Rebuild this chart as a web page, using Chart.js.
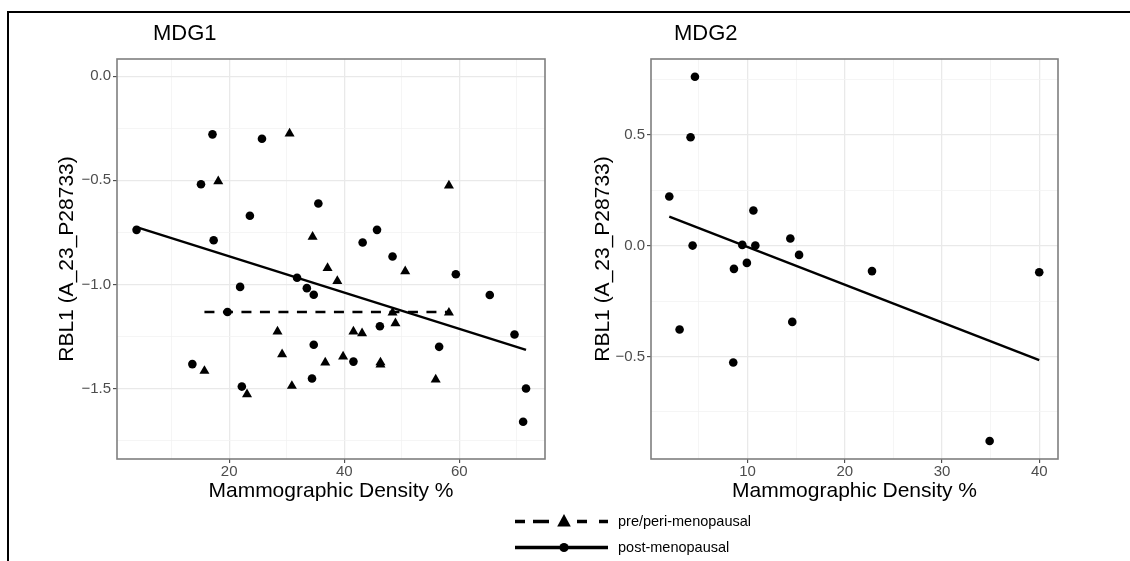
<!DOCTYPE html>
<html><head><meta charset="utf-8">
<script src="https://cdn.jsdelivr.net/npm/chart.js@4"></script>
<style>
html,body{margin:0;padding:0;background:#fff;width:1130px;height:561px;overflow:hidden;font-family:'Liberation Sans',Arial,sans-serif;}
#frame{position:absolute;left:7px;top:11px;width:1140px;height:600px;border-top:2px solid #000;border-left:2px solid #000;}
.wrap{position:absolute;top:0;}
.ptitle{position:absolute;font-size:22px;line-height:1;color:#000;top:22px;}
.leg{position:absolute;left:510px;font-size:14.5px;color:#000;}
.leg .row{position:absolute;left:0;height:20px;width:300px;}
.leg svg{position:absolute;left:0;top:0;}
.leg span{position:absolute;left:108px;top:2px;white-space:nowrap;line-height:16px;}
</style></head>
<body>
<div id="frame"></div>
<div class="wrap" style="left:0;width:580px;height:520px;"><canvas id="c1" width="580" height="520"></canvas></div>
<div class="wrap" style="left:565px;width:565px;height:520px;"><canvas id="c2" width="565" height="520"></canvas></div>
<div class="ptitle" style="left:153px;">MDG1</div>
<div class="ptitle" style="left:674px;">MDG2</div>
<div class="leg" style="top:511px;">
  <div class="row" style="top:0;">
    <svg width="105" height="20"><path d="M5 10.5H15M23 10.5H39M67 10.5H77M89 10.5H98" stroke="#000" stroke-width="3.5" fill="none"/><polygon points="54,3 60.8,15.5 47.2,15.5" fill="#000"/></svg>
    <span>pre/peri-menopausal</span>
  </div>
  <div class="row" style="top:26px;">
    <svg width="105" height="20"><line x1="5" y1="10.5" x2="98" y2="10.5" stroke="#000" stroke-width="3.5"/><circle cx="54" cy="10.5" r="4.6" fill="#000"/></svg>
    <span>post-menopausal</span>
  </div>
</div>
<script>
// ---- MDG1 (left panel) ----
const mdg1PostX = [3.9,17.1,25.7,15.1,23.6,17.3,35.5,45.7,43.2,48.4,59.4,31.8,33.5,34.7,46.2,34.7,56.5,41.6,34.4,65.3,69.6,71.6,71.1,21.9,19.7,13.6,22.2];
const mdg1PostY = [-0.738,-0.279,-0.300,-0.519,-0.670,-0.788,-0.611,-0.738,-0.799,-0.866,-0.951,-0.968,-1.018,-1.050,-1.201,-1.290,-1.300,-1.371,-1.452,-1.051,-1.241,-1.500,-1.660,-1.012,-1.133,-1.383,-1.491];
const mdg1PreX = [30.5,18.1,34.5,58.2,37.1,50.6,38.8,48.4,58.2,48.9,41.6,43.1,39.8,36.7,46.3,46.3,55.9,30.9,28.4,29.2,15.7,23.1];
const mdg1PreY = [-0.275,-0.505,-0.771,-0.525,-0.922,-0.937,-0.984,-1.136,-1.136,-1.187,-1.227,-1.235,-1.347,-1.376,-1.375,-1.385,-1.457,-1.488,-1.227,-1.336,-1.416,-1.528];
const mdg1PostFitX = [3.9, 71.6];
const mdg1PostFitY = [-0.725, -1.315];
const mdg1PreFitX = [15.7, 58.2];
const mdg1PreFitY = [-1.133, -1.133];
const mdg1XTicks = [10,20,30,40,50,60,70];
const mdg1XMajor = [20,40,60];
const mdg1XLabels = ['20','40','60'];
const mdg1YTicks = [-1.75,-1.5,-1.25,-1.0,-0.75,-0.5,-0.25,0.0];
const mdg1YMajor = [-1.5,-1.0,-0.5,0.0];
const mdg1YLabels = ['\u22121.5','\u22121.0','\u22120.5','0.0'];

// ---- MDG2 (right panel) ----
const mdg2PostX = [4.59,4.14,1.95,10.6,14.4,4.35,9.46,10.8,15.3,9.93,8.6,22.8,40.0,3.01,14.6,8.53,34.9];
const mdg2PostY = [0.761,0.488,0.221,0.158,0.032,0.0,0.003,0.0,-0.042,-0.078,-0.105,-0.115,-0.120,-0.378,-0.344,-0.527,-0.881];
const mdg2PostFitX = [1.95, 40.0];
const mdg2PostFitY = [0.131, -0.516];
const mdg2XTicks = [5,10,15,20,25,30,35,40];
const mdg2XMajor = [10,20,30,40];
const mdg2XLabels = ['10','20','30','40'];
const mdg2YTicks = [-0.75,-0.5,-0.25,0.0,0.25,0.5,0.75];
const mdg2YMajor = [-0.5,0.0,0.5];
const mdg2YLabels = ['\u22120.5','0.0','0.5'];

const xTitle = 'Mammographic Density %';
const yTitle = 'RBL1 (A_23_P28733)';

const pts = (xs, ys) => xs.map((x, i) => ({x, y: ys[i]}));
const FONT = "'Liberation Sans', Arial, sans-serif";

const framePlugin = {
  id: 'frame',
  afterDatasetsDraw(chart) {
    const {ctx, chartArea: a} = chart;
    ctx.save();
    ctx.strokeStyle = '#7f7f7f';
    ctx.lineWidth = 1.6;
    ctx.strokeRect(a.left, a.top, a.right - a.left, a.bottom - a.top);
    ctx.restore();
  }
};

function axis(ticks, major, labels, min, max, fitSize, horiz, titlePad) {
  const isMaj = v => major.some(m => Math.abs(m - v) < 1e-9);
  return {
    type: 'linear', min, max,
    afterBuildTicks: s => { s.ticks = ticks.map(v => ({value: v})); },
    afterFit: s => { if (horiz) s.height = fitSize; else s.width = fitSize; },
    ticks: {
      autoSkip: false, maxRotation: 0, padding: horiz ? 0 : 2,
      color: '#4d4d4d', font: {family: FONT, size: 15},
      callback: v => { const i = major.findIndex(m => Math.abs(m - v) < 1e-9); return i >= 0 ? labels[i] : ''; }
    },
    grid: {
      drawTicks: true, tickLength: 4,
      color: c => isMaj(c.tick.value) ? '#e9e9e9' : '#f3f3f3',
      lineWidth: c => isMaj(c.tick.value) ? 1.3 : 0.8,
      tickColor: c => isMaj(c.tick.value) ? '#333333' : 'rgba(0,0,0,0)',
      tickWidth: 1
    },
    border: {display: false},
    title: {
      display: true, text: horiz ? xTitle : yTitle, color: '#000',
      font: {family: FONT, size: 21, lineHeight: 1.2},
      padding: horiz ? {top: 0, bottom: titlePad} : {top: titlePad, bottom: 0}
    }
  };
}

const circleStyle = {pointStyle: 'circle', pointRadius: 4.3, pointHoverRadius: 4.3, backgroundColor: '#000', borderWidth: 0, showLine: false};
const triStyle = {pointStyle: 'triangle', pointRadius: 5.8, pointHoverRadius: 5.8, backgroundColor: '#000', borderWidth: 0, showLine: false};

new Chart(document.getElementById('c1'), {
  type: 'scatter',
  data: {datasets: [
    Object.assign({label: 'post-menopausal', data: pts(mdg1PostX, mdg1PostY)}, circleStyle),
    Object.assign({label: 'pre/peri-menopausal', data: pts(mdg1PreX, mdg1PreY)}, triStyle),
    {label: 'post fit', data: pts(mdg1PostFitX, mdg1PostFitY), showLine: true, borderColor: '#000', borderWidth: 2.4, pointRadius: 0, fill: false},
    {label: 'pre fit', data: pts(mdg1PreFitX, mdg1PreFitY), showLine: true, borderColor: '#000', borderWidth: 2.4, borderDash: [10, 8.5], pointRadius: 0, fill: false}
  ]},
  options: {
    responsive: false, animation: false, devicePixelRatio: 1,
    layout: {padding: {left: 0, top: 59, right: 35, bottom: 0}},
    plugins: {legend: {display: false}, tooltip: {enabled: false}},
    scales: {
      x: axis(mdg1XTicks, mdg1XMajor, mdg1XLabels, 0.5, 74.9, 61, true, 16.4),
      y: axis(mdg1YTicks, mdg1YMajor, mdg1YLabels, -1.839, 0.083, 117, false, 54.4)
    }
  },
  plugins: [framePlugin]
});

new Chart(document.getElementById('c2'), {
  type: 'scatter',
  data: {datasets: [
    Object.assign({label: 'post-menopausal', data: pts(mdg2PostX, mdg2PostY)}, circleStyle),
    {label: 'post fit', data: pts(mdg2PostFitX, mdg2PostFitY), showLine: true, borderColor: '#000', borderWidth: 2.4, pointRadius: 0, fill: false}
  ]},
  options: {
    responsive: false, animation: false, devicePixelRatio: 1,
    layout: {padding: {left: 0, top: 59, right: 72, bottom: 0}},
    plugins: {legend: {display: false}, tooltip: {enabled: false}},
    scales: {
      x: axis(mdg2XTicks, mdg2XMajor, mdg2XLabels, 0.07, 41.93, 61, true, 16.4),
      y: axis(mdg2YTicks, mdg2YMajor, mdg2YLabels, -0.962, 0.841, 86, false, 25.4)
    }
  },
  plugins: [framePlugin]
});
</script>
</body></html>
